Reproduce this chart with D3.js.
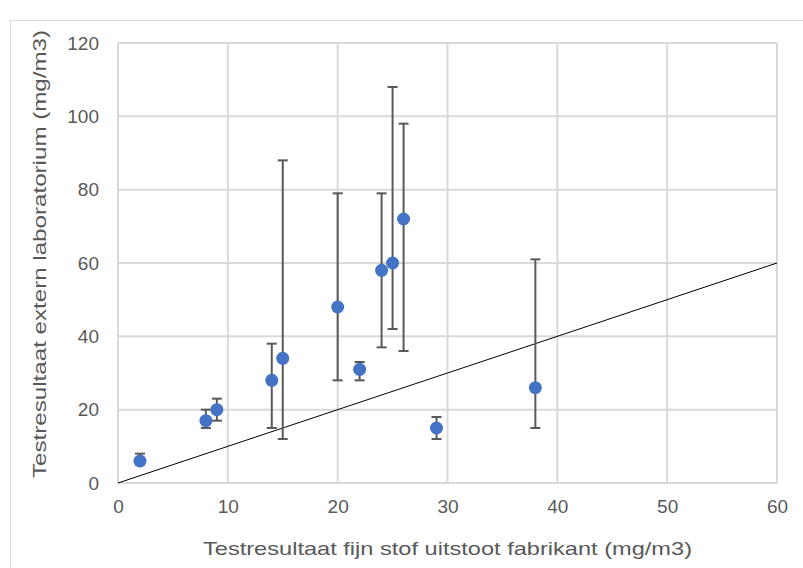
<!DOCTYPE html>
<html>
<head>
<meta charset="utf-8">
<script src="https://cdn.jsdelivr.net/npm/d3@7"></script>
<style>
  body { margin: 0; background: #fff; }
  text { font-family: "Liberation Sans", "DejaVu Sans", sans-serif; fill: #595959; }
</style>
</head>
<body>
<div id="graph"></div>
<script>
// fabrikant vs extern lab, with min/max error bars
var xVals = [2, 8, 9, 14, 15, 20, 22, 24, 25, 26, 29, 38];
var yVals = [6, 17, 20, 28, 34, 48, 31, 58, 60, 72, 15, 26];
var yLow  = [5, 15, 17, 15, 12, 28, 28, 37, 42, 36, 12, 15];
var yHigh = [8, 20, 23, 38, 88, 79, 33, 79, 108, 98, 18, 61];
var xTicks = [0, 10, 20, 30, 40, 50, 60];
var yTicks = [0, 20, 40, 60, 80, 100, 120];
var refLine = [0, 60];

var width = 803, height = 568;
var margin = { left: 118, top: 43, right: 26, bottom: 85 };
var w = width - margin.left - margin.right;
var h = height - margin.top - margin.bottom;

var svg = d3.select("#graph").append("svg")
  .attr("width", width).attr("height", height);

// outer chart frame
svg.append("rect")
  .attr("x", 10.5).attr("y", 20.5)
  .attr("width", width).attr("height", height)
  .attr("fill", "none").attr("stroke", "#d9d9d9");

var g = svg.append("g").attr("transform", "translate(" + margin.left + "," + margin.top + ")");

var x = d3.scaleLinear().domain([0, 60]).range([0, w]);
var y = d3.scaleLinear().domain([0, 120]).range([h, 0]);

// grid
g.selectAll("line.vg").data(xTicks).join("line")
  .attr("x1", d => x(d)).attr("x2", d => x(d))
  .attr("y1", 0).attr("y2", h)
  .attr("stroke", "#d9d9d9").attr("stroke-width", 2);
g.selectAll("line.hg").data(yTicks).join("line")
  .attr("x1", 0).attr("x2", w)
  .attr("y1", d => y(d)).attr("y2", d => y(d))
  .attr("stroke", "#d9d9d9").attr("stroke-width", 2);

// axes (labels only)
var xAxis = g.append("g").attr("transform", "translate(0," + h + ")")
  .call(d3.axisBottom(x).tickValues(xTicks).tickSize(0).tickPadding(17));
var yAxis = g.append("g")
  .call(d3.axisLeft(y).tickValues(yTicks).tickSize(0).tickPadding(19));
[xAxis, yAxis].forEach(function (a) {
  a.select(".domain").remove();
  a.selectAll("text").style("font-size", "19px").attr("fill", "#666")
    .style("font-family", "'Liberation Sans Narrow', 'Liberation Sans', sans-serif");
});

// y = x line
g.append("line")
  .attr("x1", x(refLine[0])).attr("y1", y(refLine[0]))
  .attr("x2", x(refLine[1])).attr("y2", y(refLine[1]))
  .attr("stroke", "#000").attr("stroke-width", 1);

var pts = xVals.map((d, i) => ({ x: d, y: yVals[i], lo: yLow[i], hi: yHigh[i] }));

// error bars
var eb = g.selectAll("g.eb").data(pts).join("g").attr("stroke", "#595959").attr("stroke-width", 2);
eb.append("line")
  .attr("x1", d => x(d.x)).attr("x2", d => x(d.x))
  .attr("y1", d => y(d.lo)).attr("y2", d => y(d.hi));
eb.append("line")
  .attr("x1", d => x(d.x) - 5).attr("x2", d => x(d.x) + 5)
  .attr("y1", d => y(d.hi)).attr("y2", d => y(d.hi));
eb.append("line")
  .attr("x1", d => x(d.x) - 5).attr("x2", d => x(d.x) + 5)
  .attr("y1", d => y(d.lo)).attr("y2", d => y(d.lo));

// points
g.selectAll("circle").data(pts).join("circle")
  .attr("cx", d => x(d.x)).attr("cy", d => y(d.y)).attr("r", 6.5)
  .attr("fill", "#4472c4");

// titles
svg.append("text")
  .attr("x", margin.left + w / 2).attr("y", 555)
  .attr("text-anchor", "middle")
  .attr("textLength", 489).attr("lengthAdjust", "spacingAndGlyphs")
  .style("font-size", "19px")
  .text("Testresultaat fijn stof uitstoot fabrikant (mg/m3)");

svg.append("text")
  .attr("transform", "translate(46," + 254 + ") rotate(-90)")
  .attr("text-anchor", "middle")
  .attr("textLength", 448).attr("lengthAdjust", "spacingAndGlyphs")
  .style("font-size", "19px")
  .text("Testresultaat extern laboratorium (mg/m3)");
</script>
</body>
</html>
